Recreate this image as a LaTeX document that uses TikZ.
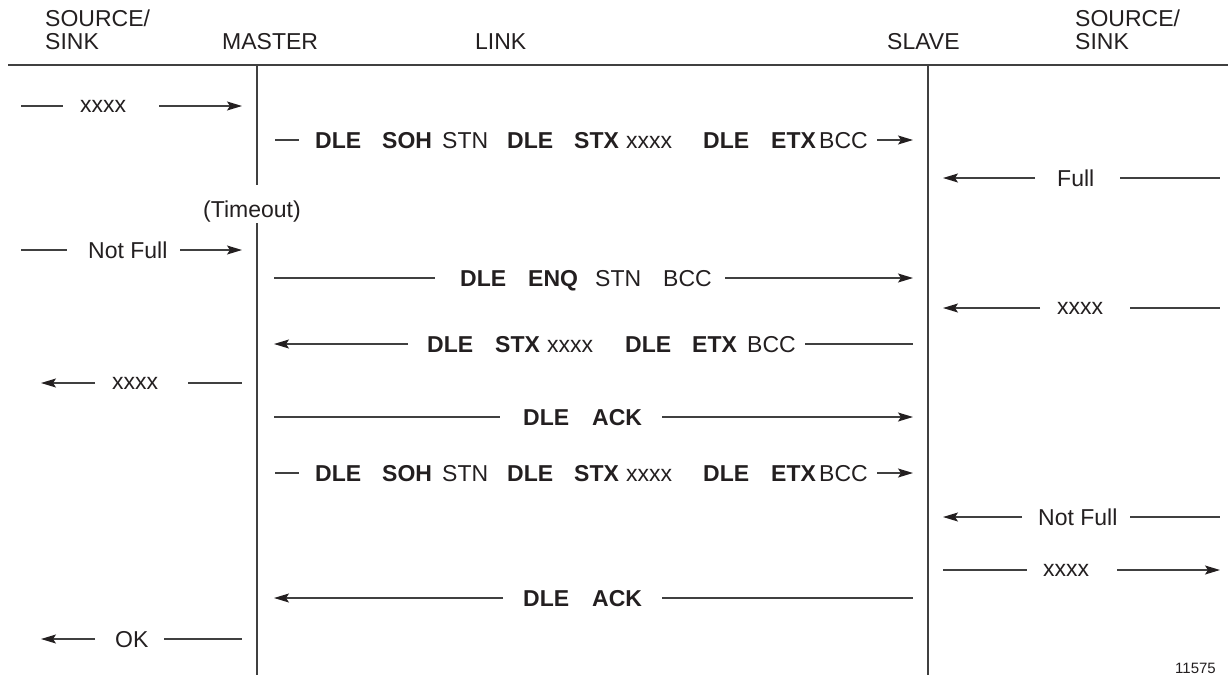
\documentclass[tikz,border=0pt]{standalone}
\usepackage{fontspec}
\setmainfont{Liberation Sans}
\usetikzlibrary{arrows.meta}
\definecolor{ink}{HTML}{231F20}
\definecolor{rulec}{HTML}{404040}
\newcommand\bword[2]{\makebox[#1pt][l]{\bfseries #2}}
\newcommand\rword[2]{\makebox[#1pt][l]{#2}}
\begin{document}
\begin{tikzpicture}[x=1pt,y=-1pt,
  txt/.style={inner sep=0pt, anchor=base west, text=ink, font=\fontsize{23}{24}\selectfont},
  small/.style={txt, font=\fontsize{15}{16}\selectfont},
  ln/.style={draw=rulec, line width=1.2pt},
  arr/.style={ln, -{Stealth[length=15pt,width=9pt,inset=3pt,color=ink]}},
  life/.style={draw=rulec, line width=1.3pt}]
\useasboundingbox (0,0) rectangle (1231,675);

% headers
\node[txt] (hsl1) at (45,26) {SOURCE/};
\node[txt] (hsl2) at (45,49) {SINK};
\node[txt] (hm) at (222,49) {MASTER};
\node[txt] (hl) at (475,49) {LINK};
\node[txt] (hs) at (887,49) {SLAVE};
\node[txt] (hsr1) at (1075,26) {SOURCE/};
\node[txt] (hsr2) at (1075,49) {SINK};

% frame lines
\coordinate (hL) at (8,65);
\coordinate (hR) at (1228,65);
\coordinate (mTop) at (257,65);
\coordinate (mBrk) at (257,185);
\coordinate (mRes) at (257,223);
\coordinate (mBot) at (257,675);
\coordinate (sTop) at (928,65);
\coordinate (sBot) at (928,675);
\draw[life] (hL) -- (hR);
\draw[life] (mTop) -- (mBrk);
\draw[life] (mRes) -- (mBot);
\draw[life] (sTop) -- (sBot);

\node[txt] (tout) at (203,217) {(Timeout)};

% row 1: source -> master
\coordinate (r1a) at (21,106); \coordinate (r1b) at (63,106);
\coordinate (r1c) at (159,106); \coordinate (r1d) at (242,106);
\node[txt] (r1t) at (80,112) {xxxx};
\draw[ln] (r1a) -- (r1b); \draw[arr] (r1c) -- (r1d);

% row 2: master -> slave
\coordinate (r2a) at (275,140); \coordinate (r2b) at (299,140);
\coordinate (r2c) at (877,140); \coordinate (r2d) at (913,140);
\node[txt] (r2t) at (315,148) {\bword{67}{DLE}\bword{60}{SOH}\rword{65}{STN}\bword{67}{DLE}\bword{52}{STX}\rword{77}{xxxx}\bword{68}{DLE}\bword{48}{ETX}BCC};
\draw[ln] (r2a) -- (r2b); \draw[arr] (r2c) -- (r2d);

% row 3: sink -> slave  Full
\coordinate (r3a) at (1035,178); \coordinate (r3b) at (943,178);
\coordinate (r3c) at (1120,178); \coordinate (r3d) at (1220,178);
\node[txt] (r3t) at (1057,186) {Full};
\draw[arr] (r3a) -- (r3b); \draw[ln] (r3c) -- (r3d);

% row 4: Not Full
\coordinate (r4a) at (21,250); \coordinate (r4b) at (67,250);
\coordinate (r4c) at (180,250); \coordinate (r4d) at (242,250);
\node[txt] (r4t) at (88,258) {Not Full};
\draw[ln] (r4a) -- (r4b); \draw[arr] (r4c) -- (r4d);

% row 5: ENQ
\coordinate (r5a) at (274,278); \coordinate (r5b) at (435,278);
\coordinate (r5c) at (725,278); \coordinate (r5d) at (913,278);
\node[txt] (r5t) at (460,286) {\bword{68}{DLE}\bword{67}{ENQ}\rword{68}{STN}BCC};
\draw[ln] (r5a) -- (r5b); \draw[arr] (r5c) -- (r5d);

% row 5b: xxxx right
\coordinate (r5xa) at (1040,308); \coordinate (r5xb) at (943,308);
\coordinate (r5xc) at (1130,308); \coordinate (r5xd) at (1220,308);
\node[txt] (r5xt) at (1057,314) {xxxx};
\draw[arr] (r5xa) -- (r5xb); \draw[ln] (r5xc) -- (r5xd);

% row 6: STX back
\coordinate (r6a) at (408,344); \coordinate (r6b) at (274,344);
\coordinate (r6c) at (805,344); \coordinate (r6d) at (913,344);
\node[txt] (r6t) at (427,352) {\bword{68}{DLE}\bword{52}{STX}\rword{78}{xxxx}\bword{67}{DLE}\bword{55}{ETX}BCC};
\draw[arr] (r6a) -- (r6b); \draw[ln] (r6c) -- (r6d);

% row 6b: xxxx left
\coordinate (r6xa) at (95,383); \coordinate (r6xb) at (41,383);
\coordinate (r6xc) at (188,383); \coordinate (r6xd) at (242,383);
\node[txt] (r6xt) at (112,389) {xxxx};
\draw[arr] (r6xa) -- (r6xb); \draw[ln] (r6xc) -- (r6xd);

% row 7: ACK
\coordinate (r7a) at (274,417); \coordinate (r7b) at (500,417);
\coordinate (r7c) at (662,417); \coordinate (r7d) at (913,417);
\node[txt] (r7t) at (523,425) {\bword{69}{DLE}\textbf{ACK}};
\draw[ln] (r7a) -- (r7b); \draw[arr] (r7c) -- (r7d);

% row 8: second SOH
\coordinate (r8a) at (275,473); \coordinate (r8b) at (299,473);
\coordinate (r8c) at (877,473); \coordinate (r8d) at (913,473);
\node[txt] (r8t) at (315,481) {\bword{67}{DLE}\bword{60}{SOH}\rword{65}{STN}\bword{67}{DLE}\bword{52}{STX}\rword{77}{xxxx}\bword{68}{DLE}\bword{48}{ETX}BCC};
\draw[ln] (r8a) -- (r8b); \draw[arr] (r8c) -- (r8d);

% row 9: Not Full right
\coordinate (r9a) at (1022,517); \coordinate (r9b) at (943,517);
\coordinate (r9c) at (1130,517); \coordinate (r9d) at (1220,517);
\node[txt] (r9t) at (1038,525) {Not Full};
\draw[arr] (r9a) -- (r9b); \draw[ln] (r9c) -- (r9d);

% row 10: xxxx to sink
\coordinate (r10a) at (943,570); \coordinate (r10b) at (1027,570);
\coordinate (r10c) at (1117,570); \coordinate (r10d) at (1220,570);
\node[txt] (r10t) at (1043,576) {xxxx};
\draw[ln] (r10a) -- (r10b); \draw[arr] (r10c) -- (r10d);

% row 11: ACK back
\coordinate (r11a) at (503,598); \coordinate (r11b) at (274,598);
\coordinate (r11c) at (662,598); \coordinate (r11d) at (913,598);
\node[txt] (r11t) at (523,606) {\bword{69}{DLE}\textbf{ACK}};
\draw[arr] (r11a) -- (r11b); \draw[ln] (r11c) -- (r11d);

% row 12: OK
\coordinate (r12a) at (95,639); \coordinate (r12b) at (41,639);
\coordinate (r12c) at (164,639); \coordinate (r12d) at (242,639);
\node[txt] (r12t) at (115,647) {OK};
\draw[arr] (r12a) -- (r12b); \draw[ln] (r12c) -- (r12d);

\node[small] (fig) at (1175,673) {11575};
\end{tikzpicture}
\end{document}
